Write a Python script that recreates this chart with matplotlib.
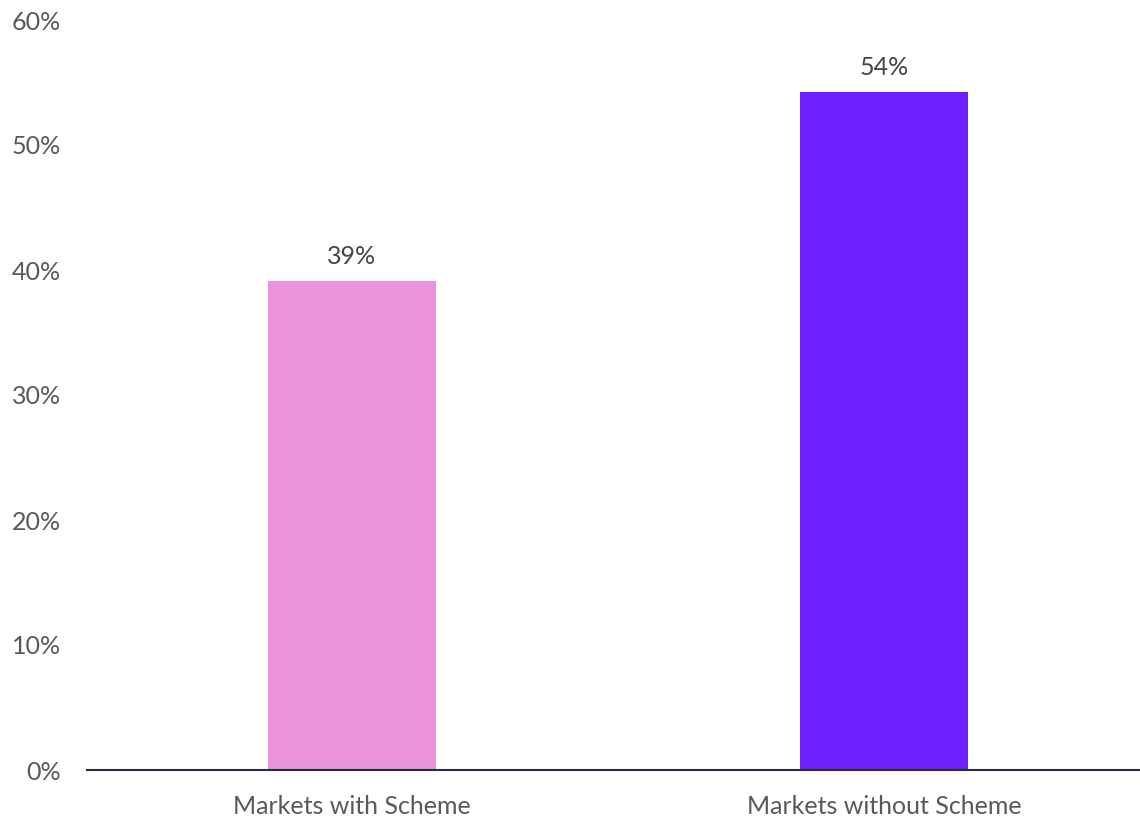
import matplotlib
matplotlib.use("Agg")
import matplotlib.pyplot as plt
from matplotlib.ticker import FuncFormatter

categories = ["Markets with Scheme", "Markets without Scheme"]
values = [39.1, 54.2]
value_labels = ["39%", "54%"]
bar_colors = ["#EA93DD", "#6E1FFF"]
yticks = [0, 10, 20, 30, 40, 50, 60]

plt.rcParams['font.family'] = ['Lato', 'DejaVu Sans']

fig = plt.figure(figsize=(11.4, 8.22), dpi=100)
ax = fig.add_axes([87/1140, 1 - 770/822, 1 - 87/1140, (770 - 20)/822])

x = list(range(len(categories)))
bars = ax.bar(x, values, width=0.316, color=bar_colors, zorder=2)
for xi, v, lab in zip(x, values, value_labels):
    ax.text(xi, v + 1.1, lab, ha='center', va='bottom', fontsize=18, color='#444444')

ax.set_xlim(-0.498, 1.481)
ax.set_ylim(0, 60)
ax.set_yticks(yticks)
ax.yaxis.set_major_formatter(FuncFormatter(lambda v, p: f"{int(v)}%"))
ax.set_xticks(x)
ax.set_xticklabels(categories)
ax.tick_params(axis='y', length=0, pad=19, labelsize=18, labelcolor='#595959')
ax.tick_params(axis='x', length=0, pad=18, labelsize=18, labelcolor='#595959')
for s in ['top', 'right', 'left']:
    ax.spines[s].set_visible(False)
ax.spines['bottom'].set_color('#2a2a3a')
ax.spines['bottom'].set_linewidth(1.5)

fig.savefig("out.png", dpi=100)
